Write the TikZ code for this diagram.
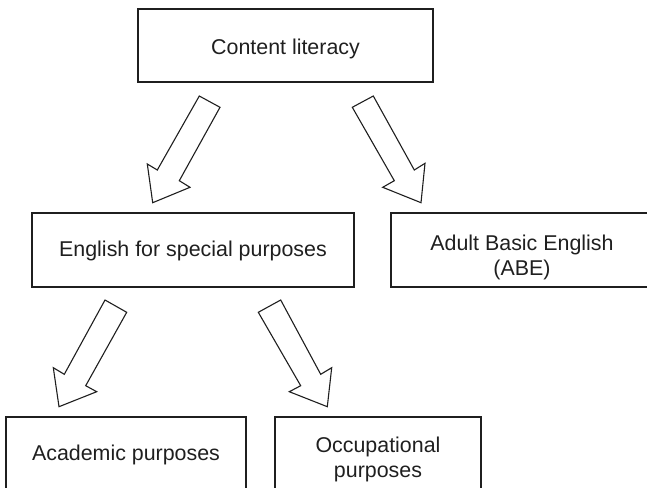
\documentclass[tikz,border=0pt]{standalone}
\usepackage{fontspec}
\setmainfont{Liberation Sans}
\begin{document}
\begin{tikzpicture}[x=1pt,y=-1pt,
  box/.style={draw=black!88, line width=1.2pt, rectangle, inner sep=0pt},
  txt/.style={inner sep=0pt, align=center, font=\fontsize{21.4}{25}\selectfont, text=black!88},
  blockarrow/.style={draw=black!88, line width=1.1pt, line join=miter, fill=white}]
\useasboundingbox (0,0) rectangle (647,487);

% boxes
\node[box, minimum width=295pt, minimum height=73pt] (cl) at (285.5,45.5) {};
\node[box, minimum width=322pt, minimum height=74pt] (esp) at (193,250) {};
\node[box, minimum width=262pt, minimum height=74pt] (abe) at (522,250) {};
\node[box, minimum width=240pt, minimum height=72pt] (acad) at (126,453) {};
\node[box, minimum width=206pt, minimum height=72pt] (occ) at (378,453) {};

% texts
\node[txt, anchor=base] (clT) at (285.5,55) {Content literacy};
\node[txt, anchor=base] (espT) at (193,256) {English for special purposes};
\node[txt, anchor=north] (abeT) at (522,234.4) {Adult Basic English\\(ABE)};
\node[txt, anchor=base] (acadT) at (126,460) {Academic purposes};
\node[txt, anchor=north] (occT) at (378,437) {Occupational\\purposes};

% block arrows
\draw[blockarrow] (199.3,96) -- (220,107.3) -- (179.3,180.7) -- (190,187.3)
  -- (152.7,202.7) -- (147.3,164) -- (157.3,170) -- cycle;
\draw[blockarrow] (373.3,96) -- (352.3,107.3) -- (394.3,180.7) -- (382.7,187.3)
  -- (421,202.7) -- (425,163.3) -- (414.3,170) -- cycle;
\draw[blockarrow] (105,300) -- (126.7,312.3) -- (85.7,385.7) -- (96.7,391.7)
  -- (59,406.7) -- (53.3,367.7) -- (64.3,374.3) -- cycle;
\draw[blockarrow] (280.7,300) -- (258.3,312.3) -- (300.7,385.7) -- (289.3,391.7)
  -- (327.3,406.7) -- (331.7,367.7) -- (320.7,374.3) -- cycle;
\end{tikzpicture}
\end{document}
